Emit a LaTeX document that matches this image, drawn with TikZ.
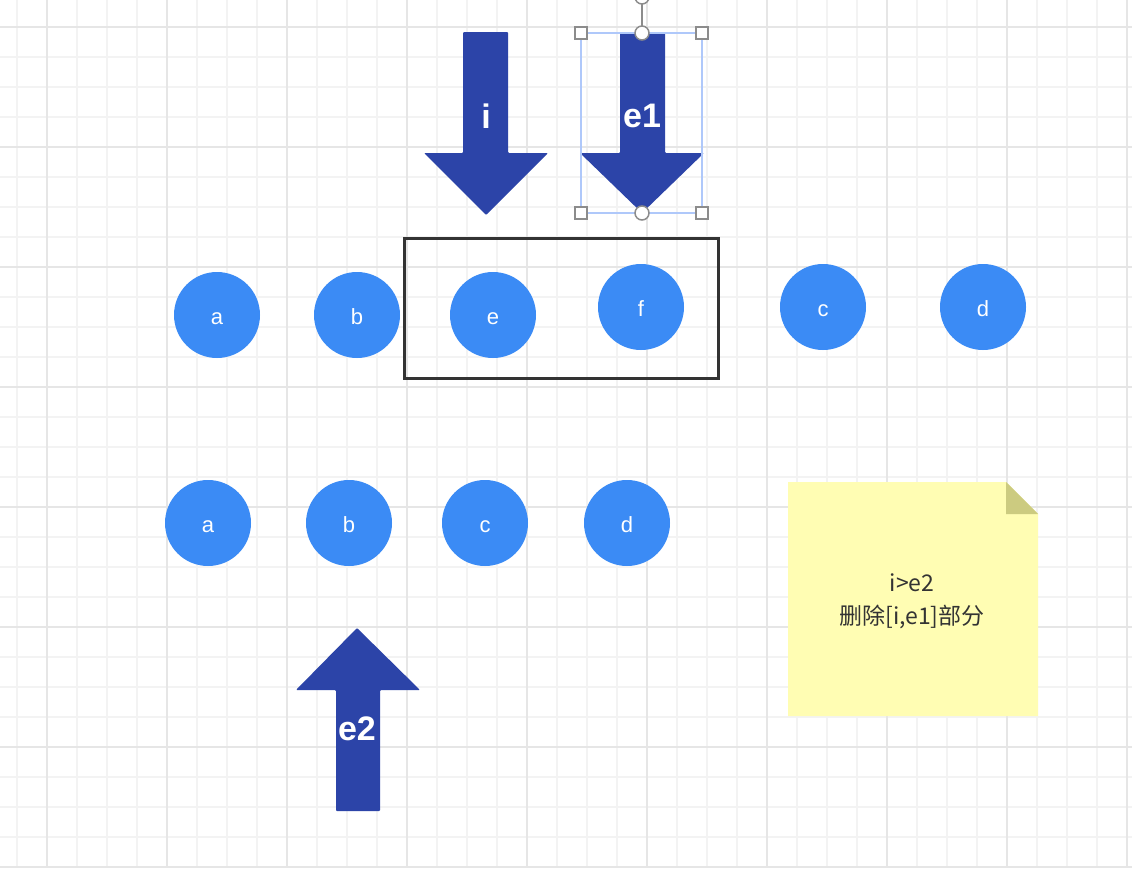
\documentclass[tikz,border=0pt]{standalone}
\usepackage{fontspec}
\setmainfont{Liberation Sans}
\newfontfamily\cjk{Noto Sans CJK SC}
\usepackage{tikz}
\usetikzlibrary{positioning, calc, backgrounds}

\definecolor{gridminor}{HTML}{F3F3F3}
\definecolor{gridmajor}{HTML}{E6E6E6}
\definecolor{ballblue}{HTML}{3B8BF5}
\definecolor{arrowblue}{HTML}{2C44A8}
\definecolor{selblue}{HTML}{AFC8FA}
\definecolor{handlegray}{HTML}{8C8C8C}
\definecolor{notefill}{HTML}{FFFDB3}
\definecolor{notefold}{HTML}{CCCB80}
\definecolor{boxdark}{HTML}{333333}

\newcommand{\balltxt}[1]{\raisebox{-9pt}[0pt][0pt]{#1}}

\tikzset{
  ball/.style={circle, fill=ballblue, draw=none, text=white,
    minimum size=86pt, inner sep=0pt, font=\fontsize{22}{26}\selectfont},
  bigarrow/.style={fill=arrowblue, draw=none, rounded corners=1pt},
  arrowlabel/.style={text=white, font=\bfseries\fontsize{34}{40}\selectfont, inner sep=0pt},
  handle/.style={draw=handlegray, fill=white, line width=1.5pt},
  notetext/.style={text=boxdark, align=center, font=\cjk\fontsize{23}{33}\selectfont}
}

\begin{document}
\begin{tikzpicture}[x=1pt, y=-1pt]
            % 0. Canvas and grid
            \useasboundingbox (0,0) rectangle (1132,868);
            \fill[white] (0,0) rectangle (1132,868);
            \foreach \x in {17,47,...,1127} {
                \draw[gridminor, line width=2pt] (\x,0) -- (\x,868);
            }
            \foreach \y in {27,57,...,867} {
                \draw[gridminor, line width=2pt] (0,\y) -- (1132,\y);
            }
            \foreach \x in {47,167,...,1127} {
                \draw[gridmajor, line width=2.5pt] (\x,0) -- (\x,868);
            }
            \foreach \y in {27,147,...,867} {
                \draw[gridmajor, line width=2.5pt] (0,\y) -- (1132,\y);
            }

            % 1. Top row
            \node[ball] (a1) at (217,315) {\balltxt{a}};
            \node[ball] (b1) at (357,315) {\balltxt{b}};
            \node[ball] (e1) at (493,315) {\balltxt{e}};
            \node[ball] (f1) at (641,307) {\balltxt{f}};
            \node[ball] (c1) at (823,307) {\balltxt{c}};
            \node[ball] (d1) at (983,307) {\balltxt{d}};

            % Frame round e and f
            \draw[boxdark, line width=3pt] (404,238) rectangle (718,378);

            % 2. Bottom row
            \node[ball] (a2) at (208,523) {\balltxt{a}};
            \node[ball] (b2) at (349,523) {\balltxt{b}};
            \node[ball] (c2) at (485,523) {\balltxt{c}};
            \node[ball] (d2) at (627,523) {\balltxt{d}};

            % 3. Block arrows
            % i (down)
            \fill[bigarrow] (463,32) -- (508,32) -- (508,153) -- (548,153)
                -- (486,215) -- (424,153) -- (463,153) -- cycle;
            \node[arrowlabel] (ilabel) at (486,116) {i};
            % e1 (down)
            \fill[bigarrow] (620,32) -- (665,32) -- (665,153) -- (704,153)
                -- (642,213) -- (580,153) -- (620,153) -- cycle;
            \node[arrowlabel] (e1label) at (642,116) {e1};
            % e2 (up)
            \fill[bigarrow] (336,811) -- (380,811) -- (380,690) -- (420,690)
                -- (357,628) -- (296,690) -- (336,690) -- cycle;
            \node[arrowlabel] (e2label) at (357,729) {e2};

            % Selection frame of e1
            \draw[selblue, line width=1.5pt] (581,33) rectangle (702,213);
            \draw[handlegray, line width=1.5pt] (642,0) -- (642,33);
            \foreach \hx/\hy in {581/33, 702/33, 581/213, 702/213} {
                \draw[handle] (\hx-6,\hy-6) rectangle (\hx+6,\hy+6);
            }
            \foreach \hx/\hy in {642/33, 642/213, 642/-3} {
                \draw[handle] (\hx,\hy) circle (7pt);
            }

            % 4. Sticky note
            \fill[notefill] (788,482) -- (1006,482) -- (1038,514) -- (1038,716)
                -- (788,716) -- cycle;
            \fill[notefold] (1006,482) -- (1038,514) -- (1006,514) -- cycle;
            \node[notetext] (note) at (912,601) {i>e2\\删除[i,e1]部分};
        \end{tikzpicture}
\end{document}
